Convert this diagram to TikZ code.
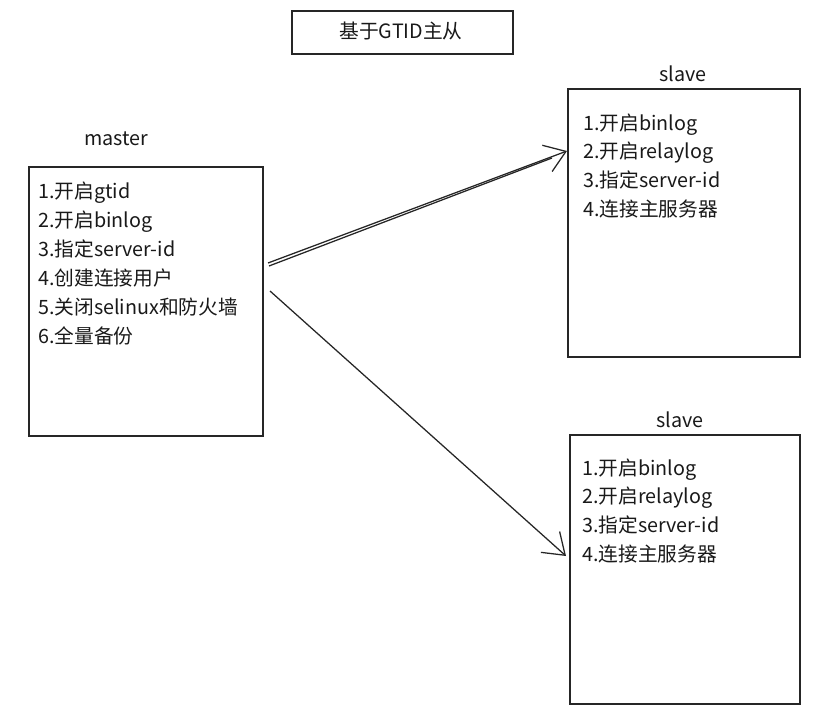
\documentclass[tikz,border=0pt]{standalone}
\usepackage{fontspec}
\setmainfont{Noto Sans CJK SC}
\usetikzlibrary{arrows.meta}
\tikzset{
  box/.style={draw=black!85, line width=1.2pt, inner sep=0pt, anchor=north west},
  item/.style={anchor=base west, inner sep=0pt, font=\fontsize{14.8pt}{16pt}\selectfont, text=black!90},
  lbl/.style={inner sep=0pt, font=\fontsize{14.8pt}{16pt}\selectfont, text=black!90},
  conn/.style={draw=black!85, line width=0.95pt, -{Straight Barb[length=15pt,width=21pt,line width=0.95pt]}}
}
\begin{document}
\begin{tikzpicture}[x=0.75pt,y=-0.75pt]
\useasboundingbox (0,0) rectangle (832,717);
% title
\node[box, minimum width=221*0.75pt, minimum height=43*0.75pt] (title) at (291,10) {};
\node[lbl] (titletext) at (401,31) {基于GTID主从};
% master
\node[lbl] (mlabel) at (116,139) {master};
\node[box, minimum width=234*0.75pt, minimum height=269*0.75pt] (master) at (28,166) {};
\foreach \t [count=\i] in {1.开启gtid,2.开启binlog,3.指定server-id,4.创建连接用户,5.关闭selinux和防火墙,6.全量备份}
  \node[item] (m\i) at (38,{198+(\i-1)*29}) {\t};
% slave 1
\node[lbl] (s1label) at (683,74) {slave};
\node[box, minimum width=232*0.75pt, minimum height=268*0.75pt] (slave1) at (567,88) {};
\foreach \t [count=\i] in {1.开启binlog,2.开启relaylog,3.指定server-id,4.连接主服务器}
  \node[item] (a\i) at (583,{130+(\i-1)*28.7}) {\t};
% slave 2
\node[lbl] (s2label) at (680,420) {slave};
\node[box, minimum width=230*0.75pt, minimum height=269*0.75pt] (slave2) at (569,434) {};
\foreach \t [count=\i] in {1.开启binlog,2.开启relaylog,3.指定server-id,4.连接主服务器}
  \node[item] (b\i) at (582,{475+(\i-1)*28.7}) {\t};
% connectors
\coordinate (p1) at (268,263);
\coordinate (p1b) at (269,266);
\coordinate (q1) at (567,151);
\coordinate (q1b) at (552,158);
\coordinate (p2) at (270,291);
\coordinate (q2) at (566,556);
\draw[conn] (p1) -- (q1);
\draw[draw=black!85, line width=0.95pt] (p1b) -- (q1b);
\draw[conn] (p2) -- (q2);
\end{tikzpicture}
\end{document}
